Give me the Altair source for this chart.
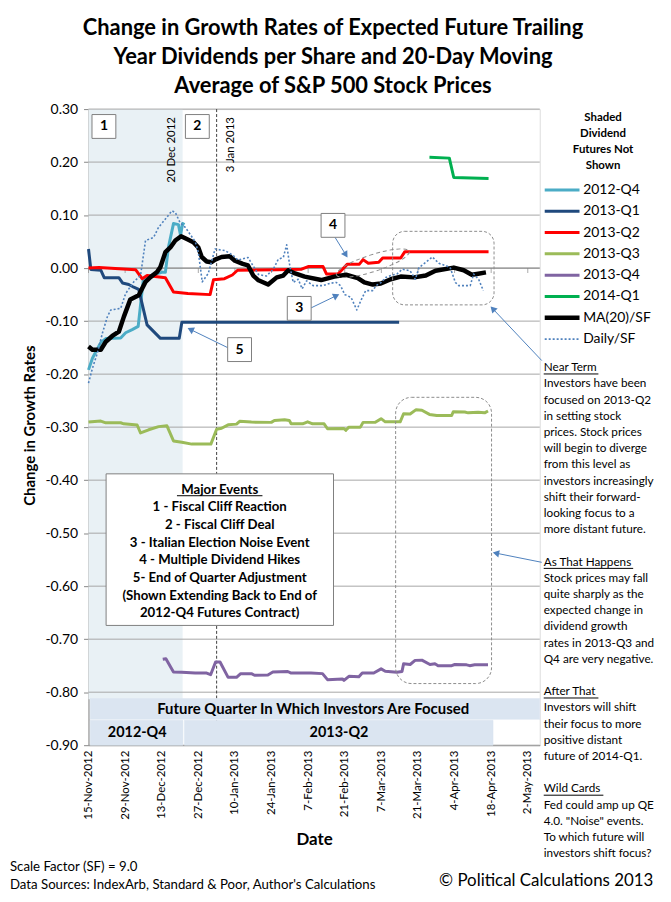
import math
import altair as alt
import pandas as pd

FONT = "Lato"
START = pd.Timestamp("2012-11-15")

SERIES = ["2012-Q4", "2013-Q1", "2013-Q2", "2013-Q3", "2013-Q4", "2014-Q1", "MA(20)/SF", "Daily/SF"]
COLORS = ["#4bacc6", "#1f497d", "#ff0000", "#9bbb59", "#8064a2", "#00b050", "#000000", "#4f81bd"]

# x values are days since 15-Nov-2012
Q4_2012_DAYS = [0, 1.5, 4.7, 6.6, 12.3, 14.2, 16.7, 19, 21, 23, 28, 29.4, 30.6, 32.5, 34.4, 35.2, 36, 36.7]
Q4_2012_VALS = [-0.192, -0.17, -0.14, -0.133, -0.132, -0.122, -0.116, -0.11, -0.02, -0.015, -0.008, -0.008,
                0.04, 0.084, 0.082, 0.062, 0.084, 0.082]

Q1_2013_DAYS = [0, 0.9, 4.7, 6, 11.6, 13, 15.4, 17.3, 19.2, 22.4, 27.5, 34.7, 35.7, 118.8]
Q1_2013_VALS = [0.036, -0.0025, -0.004, -0.018, -0.018, -0.028, -0.031, -0.036, -0.04, -0.107, -0.1325,
                -0.1325, -0.102, -0.102]

Q2_2013_DAYS = [0, 4, 18, 20.5, 22.4, 29.4, 32.5, 38, 46.5, 47.8, 52, 55, 57, 72, 81.5, 84, 89.7, 91, 95.4,
                99, 103.6, 105, 107, 111, 112.5, 119.4, 121, 153]
Q2_2013_VALS = [0.0, 0.001, -0.003, -0.02, -0.014, -0.018, -0.045, -0.048, -0.05, -0.022, -0.02, -0.013,
                -0.004, -0.003, -0.002, 0.003, 0.003, -0.011, -0.011, 0.0075, 0.0075, 0.016, 0.009, 0.011,
                0.019, 0.019, 0.031, 0.031]

Q3_2013_DAYS = [0, 4.7, 6.6, 12.3, 13.5, 18.6, 19.9, 23, 26.8, 30, 32.5, 35.7, 39.5, 46.8, 49, 50.9, 53.4,
                56.6, 57.8, 62.3, 69.9, 71.1, 75, 76.8, 77.5, 81.9, 83.8, 85.7, 90.1, 91.4, 97.7, 98.4, 99.6,
                104, 105, 109.7, 111.9, 113.5, 119.2, 120.5, 123, 125.3, 127.5, 130.4, 133.2, 138.9, 139.5,
                143.9, 145.2, 149, 151.5, 152.8]
Q3_2013_VALS = [-0.2905, -0.2886, -0.2918, -0.2918, -0.2937, -0.296, -0.311, -0.305, -0.299, -0.2975,
                -0.326, -0.3285, -0.332, -0.332, -0.304, -0.302, -0.2956, -0.2943, -0.289, -0.2905, -0.291,
                -0.2873, -0.286, -0.2873, -0.2937, -0.2937, -0.29, -0.2937, -0.2937, -0.303, -0.3025, -0.306,
                -0.300, -0.300, -0.291, -0.291, -0.284, -0.29, -0.29, -0.2747, -0.2753, -0.267, -0.268,
                -0.276, -0.278, -0.278, -0.271, -0.2715, -0.273, -0.272, -0.273, -0.2696]

Q4_2013_DAYS = [28.4, 29.6, 32.5, 35.7, 40.8, 45.2, 46.7, 48.6, 50.3, 53.4, 56.6, 58.2, 62.3, 63.5, 68.6,
                70.5, 76.2, 77.5, 83.8, 85.1, 89.5, 91.4, 97.1, 97.7, 99.6, 103.4, 104.7, 109.1, 111.9, 113.5,
                117.9, 119.9, 120.5, 123, 124.9, 127.5, 130.6, 132.5, 133.7, 138.9, 140.1, 144.6, 145.8,
                147.7, 152.8]
Q4_2013_VALS = [-0.738, -0.737, -0.762, -0.7625, -0.764, -0.764, -0.767, -0.743, -0.743, -0.772, -0.772,
                -0.765, -0.765, -0.768, -0.7675, -0.762, -0.761, -0.764, -0.764, -0.7637, -0.765, -0.7764,
                -0.775, -0.7777, -0.77, -0.771, -0.7637, -0.7637, -0.756, -0.7605, -0.7625, -0.761, -0.7465,
                -0.7478, -0.74, -0.7395, -0.7478, -0.7465, -0.75, -0.75, -0.7478, -0.7484, -0.75, -0.7484,
                -0.7484]

Q1_2014_DAYS = [130.4, 138, 139.7, 153]
Q1_2014_VALS = [0.209, 0.2075, 0.171, 0.169]

MA_DAYS = [0, 1.5, 4.7, 6.6, 9.1, 11.6, 13.5, 16, 19.2, 21.8, 23.7, 26.2, 27.5, 29.4, 31.3, 33.2, 35.4, 37.6,
           40.1, 42, 43.3, 45.2, 47, 48.4, 50.9, 54, 56, 59, 61, 63, 65, 68.7, 72, 74.5, 76.4, 79, 82.7, 89,
           94, 98.5, 103, 105.5, 108.7, 111.8, 115.6, 119.4, 124.5, 129, 132.7, 139.7, 143.5, 146.6, 148.5,
           152]
MA_VALS = [-0.148, -0.154, -0.154, -0.139, -0.128, -0.12, -0.092, -0.059, -0.051, -0.026, -0.017, -0.0075,
           0.002, 0.03, 0.039, 0.052, 0.06, 0.055, 0.049, 0.039, 0.021, 0.0125, 0.011, 0.016, 0.021, 0.0225,
           0.014, 0.008, 0.005, -0.014, -0.023, -0.031, -0.0175, -0.014, -0.004, -0.01, -0.016, -0.0225,
           -0.016, -0.0125, -0.019, -0.027, -0.031, -0.029, -0.021, -0.016, -0.0175, -0.014, -0.005, 0.001,
           -0.004, -0.0125, -0.011, -0.008]

DAILY_DAYS = [0, 1.5, 3.4, 5.3, 7.2, 8.5, 12.3, 14.2, 17.3, 19.9, 21.8, 24.9, 26.8, 29.4, 31.9, 33.2, 35, 37,
              40.8, 42, 43.5, 45.8, 48.4, 52.2, 55.3, 57.2, 61, 63, 65, 68, 70.7, 72.6, 74.5, 75.8, 77, 78.3,
              80.2, 81.7, 83.4, 85.9, 89.7, 92.2, 94.7, 96.4, 98, 100.4, 102.6, 104.2, 106, 108.7, 110, 112,
              113.7, 115.6, 118, 120, 123, 125, 126.4, 129, 131.5, 134, 137, 138.4, 140.3, 141.6, 146, 147.3,
              149.2, 151]
DAILY_VALS = [-0.217, -0.189, -0.16, -0.123, -0.092, -0.079, -0.076, -0.048, -0.026, -0.014, 0.052, 0.058,
              0.077, 0.0925, 0.108, 0.105, 0.086, 0.077, 0.05, 0.03, -0.026, -0.01, 0.036, 0.033, 0.024,
              0.015, 0.02, 0.004, -0.012, -0.015, -0.002, 0.017, 0.02, 0.044, 0.004, -0.027, -0.021, -0.039,
              -0.024, -0.033, -0.033, -0.029, -0.027, -0.033, -0.05, -0.055, -0.079, -0.061, -0.0425, -0.0425,
              -0.033, -0.027, -0.0175, -0.014, -0.011, -0.002, -0.005, -0.021, 0.001, 0.011, 0.021, 0.009,
              0.004, 0.0, -0.027, -0.033, -0.033, -0.011, -0.021, -0.0425]

TICK_DATES = ["2012-11-15", "2012-11-29", "2012-12-13", "2012-12-27", "2013-01-10", "2013-01-24",
              "2013-02-07", "2013-02-21", "2013-03-07", "2013-03-21", "2013-04-04", "2013-04-18", "2013-05-02"]
Y_TICKS = [0.30, 0.20, 0.10, 0.00, -0.10, -0.20, -0.30, -0.40, -0.50, -0.60, -0.70, -0.80, -0.90]

TITLE_LINES = ["Change in Growth Rates of Expected Future Trailing",
               "Year Dividends per Share and 20-Day Moving",
               "Average of S&P 500 Stock Prices"]
LEGEND_TITLE = ["Shaded", "Dividend", "Futures Not", "Shown"]
EVENTS = ["Major Events", "1 - Fiscal Cliff Reaction", "2 - Fiscal Cliff Deal", "3 - Italian Election Noise Event",
          "4 - Multiple Dividend Hikes", "5- End of Quarter Adjustment", "(Shown Extending Back to End of",
          "2012-Q4  Futures Contract)"]
SIDE_NOTES = [
    ("Near Term", ["Investors have been", "focused on 2013-Q2", "in setting stock", "prices.  Stock prices",
                   "will begin to diverge", "from this level as", "investors increasingly",
                   "shift their forward-", "looking focus to a", "more distant future."]),
    ("As That Happens", ["Stock prices may fall", "quite sharply as the", "expected  change in",
                         "dividend growth", "rates in 2013-Q3 and", "Q4 are very  negative."]),
    ("After  That", ["Investors will shift", "their focus to more", "positive distant", "future of 2014-Q1."]),
    ("Wild Cards", ["Fed could amp up QE", "4.0.  \"Noise\" events.", "To which future will",
                    "investors shift focus?"]),
]

series_data = [
    (Q4_2012_DAYS, Q4_2012_VALS), (Q1_2013_DAYS, Q1_2013_VALS), (Q2_2013_DAYS, Q2_2013_VALS),
    (Q3_2013_DAYS, Q3_2013_VALS), (Q4_2013_DAYS, Q4_2013_VALS), (Q1_2014_DAYS, Q1_2014_VALS),
    (MA_DAYS, MA_VALS), (DAILY_DAYS, DAILY_VALS),
]
WIDTHS = [3, 3, 3, 3, 3, 3, 4.5, 1.6]

W, H = 454, 640
XS = alt.Scale(domain=[alt.DateTime(year=2012, month=11, date=15),
                       alt.DateTime(year=2013, month=5, date=6, hours=14)])
YS = alt.Scale(domain=[-0.9, 0.3], nice=False, zero=False)

def dt(s):
    t = pd.Timestamp(s)
    return alt.DateTime(year=t.year, month=t.month, date=t.day)

XAX = alt.Axis(values=[dt(s) for s in TICK_DATES], format="%-d-%b-%Y", labelAngle=270, labelFont=FONT,
               labelFontSize=11.5, labelColor="#000000", labelPadding=5, ticks=False, grid=False,
               domainColor="#868686", title="Date", titleFont=FONT, titleFontSize=17, titleFontWeight="bold",
               titleColor="#000000", titleX=227, titleY=95, titleBaseline="middle", labelOverlap=False,
               labelFlush=False)
YAX = alt.Axis(values=Y_TICKS, labelExpr="replace(format(datum.value, '.2f'), '\u2212', '-')",
               labelFont=FONT, labelFontSize=14, labelColor="#000000", labelPadding=6, tickSize=5,
               tickColor="#868686", domainColor="#868686", grid=False, title="Change in Growth Rates",
               titleFont=FONT, titleFontSize=15, titleFontWeight="bold", titleColor="#000000", titleX=-59,
               titleY=318, titleAngle=270, titleBaseline="middle", titleAlign="center")

def X(f):
    return alt.X(f + ":T", scale=XS, axis=XAX)

def Y(f):
    return alt.Y(f + ":Q", scale=YS, axis=YAX)

ONE = alt.Data(values=[{}])

def txt(text, x, y, size=12, weight="normal", align="left", baseline="middle", angle=None, lh=None,
        color="#000000"):
    kw = dict(text=text, font=FONT, fontSize=size, fontWeight=weight, align=align, baseline=baseline,
              color=color)
    if angle is not None:
        kw["angle"] = angle
    if lh is not None:
        kw["lineHeight"] = lh
    return alt.Chart(ONE).mark_text(**kw).encode(x=alt.value(x), y=alt.value(y))

def seg(x1, y1, x2, y2, color="#4f81bd", width=1, dash=None):
    kw = dict(color=color, strokeWidth=width)
    if dash:
        kw["strokeDash"] = dash
    return alt.Chart(ONE).mark_rule(**kw).encode(x=alt.value(x1), y=alt.value(y1), x2=alt.value(x2),
                                                 y2=alt.value(y2))

def box(x1, y1, x2, y2, fill="white", stroke="#7f7f7f", dash=None, radius=0, width=1):
    kw = dict(fill=fill, stroke=stroke, strokeWidth=width)
    if fill == "none":
        kw["fill"] = "white"
        kw["fillOpacity"] = 0
    if dash:
        kw["strokeDash"] = dash
    if radius:
        kw["cornerRadius"] = radius
    return alt.Chart(ONE).mark_rect(**kw).encode(x=alt.value(x1), y=alt.value(y1), x2=alt.value(x2),
                                                 y2=alt.value(y2))

def arrow(x1, y1, x2, y2, color="#4f81bd"):
    d = math.hypot(x2 - x1, y2 - y1)
    ux, uy = (x2 - x1) / d, (y2 - y1) / d
    hx, hy = x2 - 4 * ux, y2 - 4 * uy
    ang = math.degrees(math.atan2(ux, -uy)) % 360
    head = alt.Chart(ONE).mark_point(shape="triangle-up", filled=True, color=color, size=55, angle=ang,
                                     opacity=1).encode(x=alt.value(hx), y=alt.value(hy))
    return [seg(x1, y1, hx, hy, color=color), head]

layers = []

# shaded "fiscal cliff" period
shade_df = pd.DataFrame({"start": [pd.Timestamp("2012-11-15")], "end": [pd.Timestamp("2012-12-21")],
                         "top": [0.3], "bottom": [-0.8135]})
layers.append(alt.Chart(shade_df).mark_rect(color="#e9f1f5").encode(x=X("start"), x2="end:T", y=Y("top"),
                                                                     y2="bottom:Q"))
# gridlines
grid_df = pd.DataFrame({"v": Y_TICKS})
layers.append(alt.Chart(grid_df).mark_rule(color="#a6a6a6", strokeWidth=1).encode(y=Y("v")))
# zero axis line with ticks
layers.append(alt.Chart(pd.DataFrame({"v": [0.0]})).mark_rule(color="#868686", strokeWidth=1).encode(y=Y("v")))
tick_df = pd.DataFrame({"date": pd.to_datetime(TICK_DATES), "v": 0.0})
layers.append(alt.Chart(tick_df).mark_tick(orient="vertical", color="#868686", size=5, thickness=1,
                                           yOffset=2.5).encode(x=X("date"), y=Y("v")))
# 3 Jan 2013 marker
jan_df = pd.DataFrame({"date": [pd.Timestamp("2013-01-03")]})
layers.append(alt.Chart(jan_df).mark_rule(color="#404040", strokeWidth=1, strokeDash=[3, 2]).encode(x=X("date")))

# data lines
for name, color, width, (days, vals) in zip(SERIES, COLORS, WIDTHS, series_data):
    df = pd.DataFrame({"date": START + pd.to_timedelta(days, unit="D"), "value": vals})
    kw = dict(color=color, strokeWidth=width, strokeJoin="round")
    if name == "Daily/SF":
        kw["strokeDash"] = [2, 2]
    layers.append(alt.Chart(df).mark_line(**kw).encode(x=X("date"), y=Y("value")))

# focus bands at bottom
BAND = "#dbe5f1"
layers.append(box(1.7, 593, 454, 614, fill=BAND, stroke=BAND, width=0.5))
layers.append(box(1.7, 615, 95, 640, fill=BAND, stroke=BAND, width=0.5))
layers.append(box(96.5, 615, 407, 640, fill=BAND, stroke=BAND, width=0.5))
layers.append(txt("Future Quarter In Which Investors Are Focused", 226, 604, size=15, weight="bold",
                  align="center"))
layers.append(txt("2012-Q4", 49, 628, size=14.5, weight="bold", align="center"))
layers.append(txt("2013-Q2", 252, 628, size=14.5, weight="bold", align="center"))

# dashed highlight boxes and ellipse
layers.append(box(306, 123, 408, 197, fill="none", stroke="#8c8c8c", dash=[3, 2], radius=12))
layers.append(box(309, 290, 405.5, 578, fill="none", stroke="#8c8c8c", dash=[3, 2], radius=16))
ELLIPSE = "M-1,0A1,0.22,0,1,0,1,0A1,0.22,0,1,0,-1,0Z"
layers.append(alt.Chart(ONE).mark_point(shape=ELLIPSE, filled=False, stroke="#8c8c8c", strokeWidth=1,
                                        strokeDash=[4, 3], size=77 * 77, angle=342, opacity=1)
              .encode(x=alt.value(286), y=alt.value(155)))

# date labels at top
layers.append(txt("20 Dec 2012", 84, 8, size=11.5, align="right", angle=270))
layers.append(txt("3 Jan 2013", 143, 8, size=11.5, align="right", angle=270))

# arrows
for a in [(248, 129, 261, 150), (224, 200, 253, 186), (140, 240, 99, 220), (456, 253, 404, 198),
          (456, 456, 406, 446)]:
    layers.extend(arrow(*a))

# numbered callouts
for label, cx, cy in [("1", 15.5, 17.5), ("2", 109.5, 17.5), ("3", 212, 200.5), ("4", 246, 117),
                      ("5", 152, 242)]:
    layers.append(box(cx - 12, cy - 12, cx + 12, cy + 12))
    layers.append(txt(label, cx, cy, size=14, weight="bold", align="center"))

# major events box
layers.append(box(17.7, 367, 246.5, 519.5))
layers.append(txt(EVENTS, 132, 376, size=13.3, weight="bold", align="center", baseline="top", lh=17.75))
layers.append(seg(89, 389, 175, 389, color="#000000"))

# legend
layers.append(txt(LEGEND_TITLE, 517.7, 3, size=11.5, weight="bold", align="center", baseline="top", lh=16))
for i, (name, color, width) in enumerate(zip(SERIES, COLORS, WIDTHS)):
    yy = 81.3 + 21.45 * i
    layers.append(seg(459, yy, 494, yy, color=color, width=width if width > 2 else 1.6,
                      dash=[2, 2] if name == "Daily/SF" else None))
    layers.append(txt(name, 497.7, yy, size=14))

# side commentary (heading + body, each block positioned on a 16.3px line grid)
LH = 16.3
row = 0
for heading, body in SIDE_NOTES:
    ytop = 254.7 + LH * row
    layers.append(txt(heading, 458, ytop, size=11.8, baseline="top"))
    layers.append(txt(body, 458, ytop + LH, size=11.8, baseline="top", lh=LH))
    uw = {"Near Term": 55, "As That Happens": 90, "After  That": 55, "Wild Cards": 60}[heading]
    layers.append(seg(458, ytop + 11.8, 458 + uw, ytop + 11.8, color="#000000"))
    row += len(body) + 2

# title and footer
for i, line in enumerate(TITLE_LINES):
    layers.append(txt(line, 246, -82 + 29.5 * i, size=22, weight="bold", align="center"))
layers.append(txt("Scale Factor (SF) = 9.0", -79, 763, size=13.3))
layers.append(txt("Data Sources: IndexArb, Standard & Poor, Author's Calculations", -79, 781, size=13.3))
layers.append(txt("\u00a9 Political Calculations 2013", 460.5, 777, size=17, align="center"))

chart = alt.layer(*layers).properties(
    width=W, height=H,
    padding={"left": 81, "top": 99, "right": 124, "bottom": 145},
    autosize=alt.AutoSizeParams(type="none"),
).configure_view(strokeWidth=0).configure(font=FONT)

chart.save("out.html", embed_options={"renderer": "svg", "actions": False})
